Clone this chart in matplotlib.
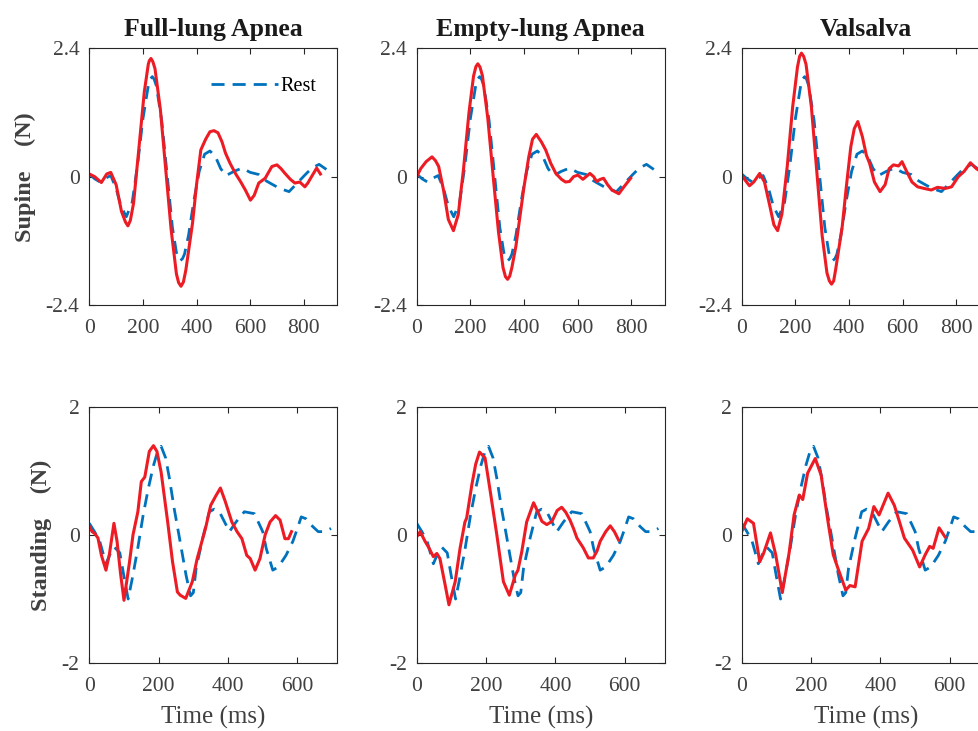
import matplotlib
matplotlib.use("Agg")
import matplotlib.pyplot as plt

plt.rcParams['font.family'] = ['Liberation Serif', 'DejaVu Serif']
plt.rcParams['axes.unicode_minus'] = False

# column titles and row labels
col_titles = ["Full-lung Apnea", "Empty-lung Apnea", "Valsalva"]
row_labels = ["Supine    (N)", "Standing    (N)"]

# rest curves (same in each row)
sup_rest_t = [0, 20, 40, 60, 80, 100, 118, 138, 160, 180, 200, 220, 228, 235, 242, 250, 270,
              290, 310, 325, 332, 340, 348, 355, 370, 390, 410, 430, 450, 470, 490, 510, 540,
              570, 600, 632, 660, 681, 710, 745, 770, 806, 830, 857, 880, 905]
sup_rest_v = [0.05, -0.04, -0.1, -0.03, 0.02, -0.22, -0.55, -0.75, -0.48, 0.22, 1.08, 1.7,
              1.83, 1.87, 1.82, 1.7, 1.05, 0.05, -0.95, -1.42, -1.53, -1.57, -1.53, -1.45,
              -1.1, -0.45, 0.1, 0.42, 0.48, 0.38, 0.15, 0.02, 0.1, 0.16, 0.08, 0.04, -0.08,
              -0.14, -0.22, -0.28, -0.15, 0.04, 0.16, 0.23, 0.15, 0.06]

sta_rest_t = [0, 15, 30, 48, 60, 72, 88, 100, 112, 125, 140, 155, 170, 185, 197, 207, 220, 231,
              245, 260, 279, 292, 300, 308, 327, 346, 360, 375, 390, 404, 423, 447, 476, 500,
              510, 529, 545, 567, 587, 600, 611, 625, 644, 660, 678, 697]
sta_rest_v = [0.18, 0.05, -0.1, -0.45, -0.3, -0.19, -0.28, -0.65, -1.0, -0.65, -0.2, 0.3, 0.72,
              1.08, 1.3, 1.38, 1.2, 0.88, 0.4, -0.05, -0.63, -0.95, -0.9, -0.52, -0.05, 0.36,
              0.4, 0.36, 0.2, 0.05, 0.2, 0.36, 0.33, 0.05, -0.21, -0.55, -0.5, -0.32, -0.1, 0.1,
              0.28, 0.25, 0.13, 0.05, 0.05, 0.1]

# supine, breath-hold curves
sup_full_t = [0, 20, 45, 65, 80, 100, 120, 135, 144, 153, 165, 185, 205, 220, 224, 230, 237,
              245, 265, 285, 305, 325, 333, 342, 351, 360, 385, 400, 416, 434, 450, 465, 480,
              495, 508, 525, 545, 565, 582, 601, 615, 632, 656, 681, 700, 715, 730, 750, 767,
              785, 804, 815, 829, 848, 862]
sup_full_v = [0.05, 0.0, -0.11, 0.05, 0.08, -0.15, -0.65, -0.85, -0.92, -0.82, -0.5, 0.53,
              1.58, 2.1, 2.17, 2.21, 2.15, 2.02, 1.26, 0.14, -0.98, -1.82, -1.98, -2.05, -1.97,
              -1.75, -0.87, -0.15, 0.5, 0.7, 0.84, 0.86, 0.82, 0.65, 0.44, 0.25, 0.06, -0.1,
              -0.25, -0.44, -0.35, -0.12, -0.03, 0.19, 0.22, 0.15, 0.06, -0.05, -0.12, -0.1,
              -0.19, -0.12, 0.0, 0.16, 0.05]

sup_empty_t = [0, 15, 35, 57, 70, 82, 100, 118, 137, 155, 175, 195, 212, 221, 228, 236, 245,
               265, 285, 305, 322, 331, 339, 347, 355, 370, 385, 400, 418, 432, 446, 465, 481,
               500, 519, 540, 555, 570, 585, 601, 620, 646, 660, 671, 685, 697, 712, 728, 754,
               773, 798]
sup_empty_v = [0.0, 0.15, 0.28, 0.37, 0.3, 0.19, -0.25, -0.8, -1.01, -0.71, 0.16, 1.2, 1.88,
               2.06, 2.11, 2.05, 1.89, 1.1, 0.02, -1.03, -1.7, -1.87, -1.92, -1.86, -1.7, -1.3,
               -0.75, -0.2, 0.37, 0.7, 0.79, 0.65, 0.5, 0.25, 0.06, -0.05, -0.1, -0.09, 0.0,
               0.03, -0.05, 0.06, 0.0, -0.09, -0.05, -0.03, -0.15, -0.25, -0.32, -0.19, -0.03]

sup_vals_t = [0, 15, 29, 45, 67, 85, 105, 120, 134, 150, 170, 190, 208, 216, 223, 231, 240,
              260, 280, 300, 318, 327, 335, 343, 350, 375, 390, 407, 420, 433, 450, 465, 477,
              495, 516, 535, 550, 566, 585, 598, 615, 635, 656, 680, 707, 730, 760, 783, 808,
              830, 853, 875, 904]
sup_vals_v = [0.03, -0.08, -0.17, -0.1, 0.06, -0.1, -0.55, -0.9, -1.01, -0.7, 0.2, 1.3, 2.05,
              2.25, 2.31, 2.25, 2.1, 1.3, 0.1, -1.1, -1.8, -1.95, -2.01, -1.95, -1.75, -0.93,
              -0.2, 0.56, 0.9, 1.03, 0.75, 0.4, 0.25, -0.1, -0.28, -0.15, 0.15, 0.22, 0.2,
              0.28, 0.1, -0.1, -0.19, -0.22, -0.25, -0.2, -0.22, -0.19, 0.0, 0.1, 0.26, 0.15,
              0.06]

# standing, breath-hold curves
sta_full_t = [0, 8, 16, 25, 35, 48, 58, 71, 80, 90, 100, 116, 126, 140, 150, 160, 173, 185,
              195, 207, 226, 240, 254, 262, 278, 297, 311, 335, 350, 364, 378, 392, 411, 426,
              440, 454, 464, 478, 492, 507, 521, 537, 550, 564, 574, 583]
sta_full_v = [0.13, 0.05, 0.02, -0.05, -0.32, -0.55, -0.3, 0.18, -0.1, -0.6, -1.02, -0.42, 0.0,
              0.36, 0.83, 0.9, 1.3, 1.39, 1.3, 0.98, 0.2, -0.42, -0.89, -0.94, -0.99, -0.73,
              -0.37, 0.1, 0.46, 0.6, 0.73, 0.52, 0.2, 0.05, -0.06, -0.32, -0.37, -0.55, -0.37,
              0.0, 0.2, 0.3, 0.23, -0.06, -0.06, 0.05]

sta_empty_t = [0, 10, 24, 35, 48, 58, 67, 82, 93, 111, 125, 139, 144, 159, 170, 181, 197, 212,
               231, 250, 267, 284, 292, 303, 317, 337, 350, 361, 375, 390, 405, 418, 430, 442,
               452, 462, 480, 495, 509, 520, 529, 545, 558, 570, 582]
sta_empty_v = [-0.03, 0.05, -0.1, -0.2, -0.34, -0.29, -0.37, -0.78, -1.09, -0.73, -0.21, 0.2,
               0.26, 0.78, 1.1, 1.29, 1.2, 0.68, 0.0, -0.73, -0.94, -0.63, -0.55, -0.26, 0.2,
               0.5, 0.35, 0.21, 0.16, 0.21, 0.38, 0.43, 0.35, 0.23, 0.1, -0.05, -0.2, -0.36,
               -0.36, -0.25, -0.1, 0.05, 0.14, 0.05, -0.08]

sta_vals_t = [0, 16, 34, 52, 63, 83, 98, 117, 137, 151, 166, 176, 190, 212, 229, 249, 264, 278,
              300, 312, 327, 347, 366, 381, 396, 422, 440, 455, 469, 493, 513, 530, 542, 552,
              569, 586]
sta_vals_v = [0.05, 0.25, 0.18, -0.42, -0.29, 0.03, -0.31, -0.9, -0.27, 0.31, 0.62, 0.55, 0.96,
              1.19, 0.93, 0.2, -0.31, -0.53, -0.86, -0.79, -0.81, -0.1, 0.1, 0.44, 0.31, 0.65,
              0.46, 0.2, -0.05, -0.24, -0.5, -0.3, -0.18, -0.21, 0.11, -0.03]

rows = [
    dict(rest=(sup_rest_t, sup_rest_v),
         hold=[(sup_full_t, sup_full_v), (sup_empty_t, sup_empty_v), (sup_vals_t, sup_vals_v)],
         ylim=2.4, yticks=[-2.4, 0, 2.4], yticklabels=["-2.4", "0", "2.4"],
         xlim=925, xticks=[0, 200, 400, 600, 800]),
    dict(rest=(sta_rest_t, sta_rest_v),
         hold=[(sta_full_t, sta_full_v), (sta_empty_t, sta_empty_v), (sta_vals_t, sta_vals_v)],
         ylim=2, yticks=[-2, 0, 2], yticklabels=["-2", "0", "2"],
         xlim=715, xticks=[0, 200, 400, 600]),
]

RED = '#ED1C24'
BLUE = '#0072BD'
GRAY = '#404040'

W, H = 979, 731
fig = plt.figure(figsize=(W / 100, H / 100), dpi=100)

lefts = [89.3, 416.7, 741.7]
tops = [48.3, 406.5]
aw, ah = 248, 256.7

for r, row in enumerate(rows):
    for c in range(3):
        ax = fig.add_axes([lefts[c] / W, 1 - (tops[r] + ah) / H, aw / W, ah / H])
        rt, rv = row['rest']
        ln, = ax.plot(rt, rv, color=BLUE, lw=2.0, ls=(0, (4.7, 2.9)), label='Rest')
        ht, hv = row['hold'][c]
        ax.plot(ht, hv, color=RED, lw=2.2, solid_joinstyle='round')
        ax.set_xlim(0, row['xlim'])
        ax.set_ylim(-row['ylim'], row['ylim'])
        ax.set_xticks(row['xticks'])
        ax.set_yticks(row['yticks'])
        ax.set_yticklabels(row['yticklabels'])
        ax.tick_params(direction='in', length=4, width=0.8, top=True, right=True,
                       labelsize=15.5, labelcolor=GRAY, color='#262626')
        ax.tick_params(axis='x', pad=10)
        ax.tick_params(axis='y', pad=7)
        for sp in ax.spines.values():
            sp.set_color('#262626')
            sp.set_linewidth(0.8)
        if r == 0:
            ax.set_title(col_titles[c], fontsize=18.5, fontweight='bold', color='#1a1a1a', pad=9)
        if c == 0:
            ax.set_ylabel(row_labels[r], fontsize=17.5, fontweight='bold', color=GRAY, labelpad=7)
        if r == 1:
            ax.set_xlabel("Time (ms)", fontsize=18, color=GRAY, labelpad=7)
        if r == 0 and c == 0:
            ax.legend(handles=[ln], loc='upper left', bbox_to_anchor=(0.46, 0.92),
                      frameon=False, fontsize=14.5, handlelength=3.3, handletextpad=0.15,
                      borderaxespad=0)

fig.savefig("out.png", dpi=100)
